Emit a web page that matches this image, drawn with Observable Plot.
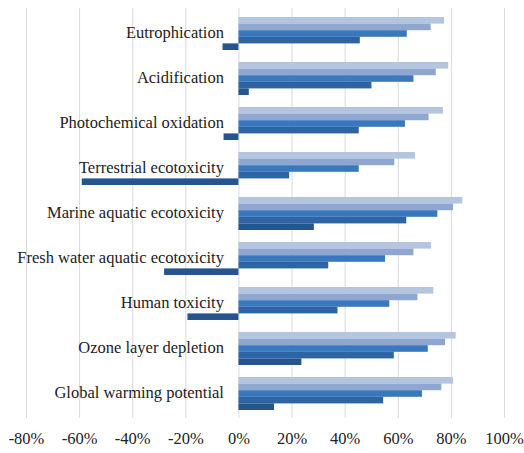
<!DOCTYPE html>
<html>
<head>
<meta charset="utf-8">
<script src="https://cdn.jsdelivr.net/npm/d3@7"></script>
<script src="https://cdn.jsdelivr.net/npm/@observablehq/plot@0.6"></script>
<style>
  html, body { margin: 0; padding: 0; background: #fff; }
  #chart svg, #chart svg text {
    font-family: "Liberation Serif", "Times New Roman", serif !important;
  }
</style>
</head>
<body>
<div id="chart"></div>
<script>
// Impact categories, top to bottom
const categories = [
  "Eutrophication",
  "Acidification",
  "Photochemical oxidation",
  "Terrestrial ecotoxicity",
  "Marine aquatic ecotoxicity",
  "Fresh water aquatic ecotoxicity",
  "Human toxicity",
  "Ozone layer depletion",
  "Global warming potential"
];

// Relative change per category, one array per series (top bar to bottom bar in each group)
const series1 = [0.774, 0.790, 0.770, 0.665, 0.843, 0.725, 0.734, 0.818, 0.808];
const series2 = [0.724, 0.743, 0.716, 0.587, 0.808, 0.659, 0.674, 0.778, 0.764];
const series3 = [0.634, 0.659, 0.627, 0.453, 0.749, 0.552, 0.568, 0.713, 0.691];
const series4 = [0.457, 0.501, 0.453, 0.191, 0.632, 0.338, 0.373, 0.585, 0.545];
const series5 = [-0.060, 0.039, -0.056, -0.590, 0.284, -0.280, -0.192, 0.237, 0.134];

const seriesColors = ["#B4C5E0", "#8EA6D0", "#3A78BE", "#2E64A3", "#25558C"];

const tickValues = [-0.8, -0.6, -0.4, -0.2, 0, 0.2, 0.4, 0.6, 0.8, 1.0];

const width = 524, height = 453;
const marginTop = 8, marginBottom = 35, marginLeft = 26, marginRight = 20;
const paddingInner = 0.276, paddingOuter = 0.138;

// Band geometry, used to stack the five bars inside each category band
const step = (height - marginTop - marginBottom) /
  (categories.length - paddingInner + 2 * paddingOuter);
const bandwidth = step * (1 - paddingInner);
const allSeries = [series1, series2, series3, series4, series5];
const barH = bandwidth / allSeries.length;

const barMarks = allSeries.map((values, s) =>
  Plot.barX(
    categories.map((c, i) => ({category: c, value: values[i]})),
    {
      x: "value",
      y: "category",
      fill: seriesColors[s],
      insetTop: s * barH,
      insetBottom: (allSeries.length - 1 - s) * barH
    }
  )
);

const serif = "Liberation Serif, Times New Roman, serif";

const chart = Plot.plot({
  width,
  height,
  marginTop,
  marginBottom,
  marginLeft,
  marginRight,
  style: {
    fontFamily: serif,
    fontSize: "16.5px",
    color: "#222",
    background: "#fff"
  },
  x: {
    domain: [-0.8, 1.0],
    ticks: tickValues,
    tickFormat: d => `${Math.round(d * 100)}%`,
    tickSize: 0,
    tickPadding: 14,
    label: null
  },
  y: {
    domain: categories,
    paddingInner,
    paddingOuter,
    axis: null
  },
  marks: [
    Plot.ruleX(tickValues, {stroke: "#d9d9d9", strokeWidth: 1}),
    ...barMarks,
    Plot.text(categories, {
      x: 0,
      y: d => d,
      text: d => d,
      textAnchor: "end",
      dx: -15,
      dy: -1,
      fill: "#222",
      fontFamily: serif,
      fontSize: 16.5
    })
  ]
});

document.getElementById("chart").appendChild(chart);
</script>
</body>
</html>
